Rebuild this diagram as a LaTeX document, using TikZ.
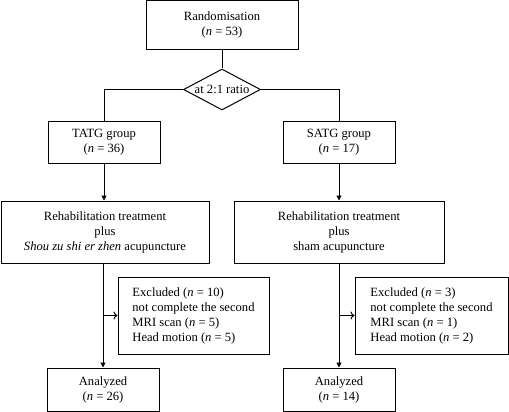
\documentclass[tikz,border=0pt]{standalone}
\usepackage{fontspec}
\setmainfont{Liberation Serif}
\usetikzlibrary{shapes.geometric,arrows.meta}
\newcommand{\nn}{\textit{n}}
\begin{document}
\begin{tikzpicture}[x=1pt,y=-1pt,
  every node/.style={font=\fontsize{12.6}{15}\selectfont},
  box/.style={draw,line width=1pt,inner sep=0pt,align=center},
  conn/.style={line width=1pt},
  arr/.style={line width=1pt,-{Triangle[length=5pt,width=5pt]}},
  exarr/.style={line width=1pt,-{To[length=4pt,width=8pt]}}]
\useasboundingbox (0,0) rectangle (509,412);
\node[box,minimum width=152pt,minimum height=48.5pt] (rand) at (222,25.25) {Randomisation\\(\nn{} = 53)};
\node[draw,line width=1pt,shape=diamond,aspect=1.88,inner sep=0pt,minimum width=77pt,minimum height=41pt] (dia) at (222,89.5) {at 2:1 ratio};
\node[box,minimum width=112pt,minimum height=42pt] (tatg) at (104,142) {TATG group\\(\nn{} = 36)};
\node[box,minimum width=112pt,minimum height=42pt] (satg) at (339,142) {SATG group\\(\nn{} = 17)};
\node[box,minimum width=208pt,minimum height=62pt] (rehL) at (105,232) {Rehabilitation treatment\\plus\\\textit{Shou zu shi er zhen} acupuncture};
\node[box,minimum width=210pt,minimum height=62pt] (rehR) at (339,232) {Rehabilitation treatment\\plus\\sham acupuncture};
\node[draw,line width=1pt,minimum width=151pt,minimum height=77pt] (exL) at (193.5,315.5) {};
\node[align=left,inner sep=0pt] (exLt) at (exL.center) {Excluded (\nn{} = 10)\\not complete the second\\MRI scan (\nn{} = 5)\\Head motion (\nn{} = 5)};
\node[draw,line width=1pt,minimum width=153pt,minimum height=77pt] (exR) at (431.5,315.5) {};
\node[align=left,inner sep=0pt] (exRt) at (exR.center) {Excluded (\nn{} = 3)\\not complete the second\\MRI scan (\nn{} = 1)\\Head motion (\nn{} = 2)};
\node[box,minimum width=112pt,minimum height=43pt] (anaL) at (103,389.5) {Analyzed\\(\nn{} = 26)};
\node[box,minimum width=112pt,minimum height=43pt] (anaR) at (339,389.5) {Analyzed\\(\nn{} = 14)};
\draw[conn] (rand.south) -- (dia.north);
\draw[conn] (dia.west) -| (tatg.north);
\draw[conn] (dia.east) -| (satg.north);
\draw[arr] (tatg.south) -- (tatg.south |- rehL.north);
\draw[arr] (satg.south) -- (satg.south |- rehR.north);
\draw[arr] (anaL.north |- rehL.south) -- (anaL.north);
\draw[arr] (anaR.north |- rehR.south) -- (anaR.north);
\coordinate (bL) at (anaL.north |- exL.west);
\coordinate (bR) at (anaR.north |- exR.west);
\draw[exarr] (bL) -- (exL.west);
\draw[exarr] (bR) -- (exR.west);
\end{tikzpicture}
\end{document}
